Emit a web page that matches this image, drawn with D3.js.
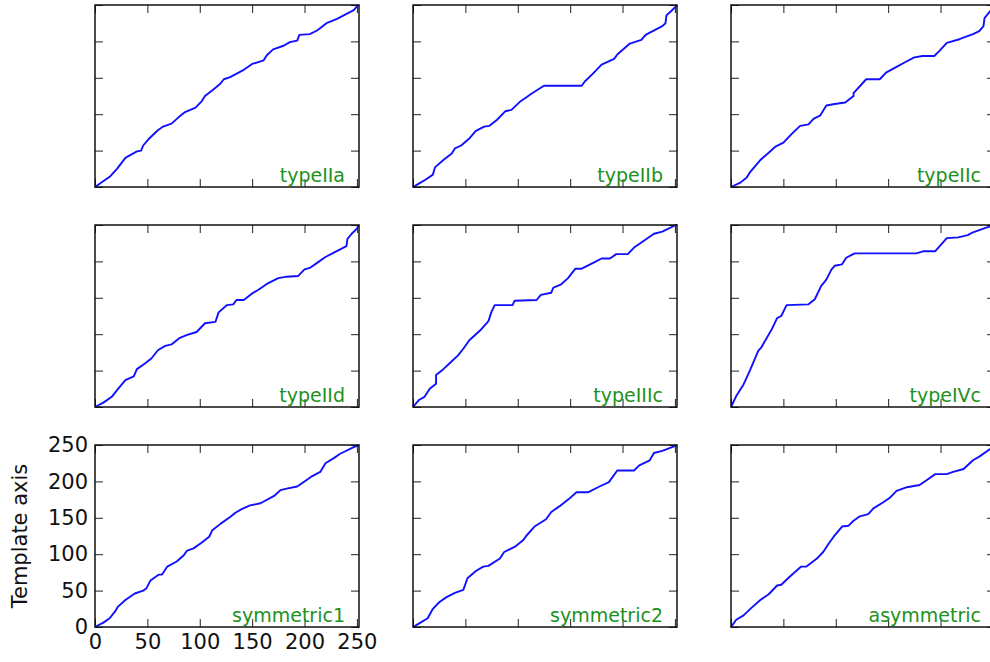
<!DOCTYPE html>
<html>
<head>
<meta charset="utf-8">
<script src="https://cdn.jsdelivr.net/npm/d3@7"></script>
<style>
  html, body { margin: 0; padding: 0; background: #fff; overflow: hidden; }
  svg { display: block; }
  text { font-family: "DejaVu Sans", sans-serif; }
</style>
</head>
<body>
<svg id="chart" width="990" height="662"></svg>
<script>
// Warping paths: [query index, template index] breakpoints for each step pattern
const pathTypeIIa = [[0,0],[14,14],[21,25],[29,40],[40,49],[44,50],[46,57],[52,67],[60,78],[65,83],[73,87],[80,96],[86,103],[96,109],[102,118],[105,125],[113,134],[119,141],[123,148],[129,151],[142,161],[150,169],[161,174],[164,181],[170,189],[180,194],[186,199],[193,201],[195,209],[205,210],[212,215],[221,225],[231,231],[247,243],[250,248],[252,250]];
const pathTypeIIb = [[0,0],[6,5],[13,11],[19,17],[21,27],[29,37],[37,46],[40,53],[46,57],[54,67],[60,77],[68,83],[73,84],[80,92],[88,104],[94,106],[102,117],[108,123],[113,128],[125,139],[161,139],[164,145],[172,156],[180,168],[192,176],[195,182],[207,197],[218,202],[222,209],[238,221],[241,225],[242,236],[246,241],[251,248],[252,250]];
const pathTypeIIc = [[0,0],[9,6],[15,13],[18,20],[28,37],[36,47],[42,55],[50,61],[58,73],[66,84],[74,86],[79,94],[85,98],[91,112],[99,114],[109,116],[117,125],[117,129],[129,148],[142,148],[148,157],[158,165],[167,172],[175,178],[183,180],[194,180],[199,187],[206,198],[218,203],[231,210],[237,214],[241,221],[242,232],[247,241],[250,244],[252,250]];
const pathTypeIId = [[0,0],[8,6],[16,14],[22,25],[29,37],[37,42],[40,52],[48,60],[54,67],[60,78],[67,84],[73,86],[81,95],[88,99],[97,103],[105,115],[115,117],[118,130],[126,140],[132,141],[135,147],[142,147],[150,156],[156,161],[164,169],[175,177],[183,179],[194,180],[200,189],[205,191],[213,199],[220,206],[228,212],[240,221],[241,231],[245,238],[250,245],[252,250]];
const pathTypeIIIc = [[0,0],[6,10],[11,14],[16,25],[22,32],[22,44],[29,52],[35,60],[43,71],[48,80],[54,92],[64,105],[72,118],[75,131],[78,140],[95,140],[97,146],[118,147],[122,154],[132,157],[134,164],[141,168],[148,177],[155,190],[161,190],[172,198],[180,204],[188,204],[194,210],[205,210],[211,219],[218,226],[230,238],[238,241],[251,250],[252,250]];
const pathTypeIVc = [[0,0],[5,15],[12,31],[18,50],[26,77],[29,82],[39,107],[44,122],[48,125],[53,140],[74,141],[80,148],[86,166],[91,175],[96,189],[99,194],[106,196],[110,205],[118,211],[177,211],[184,214],[195,214],[206,232],[217,233],[226,236],[231,240],[245,247],[252,250]];
const pathSymmetric1 = [[0,0],[8,6],[14,12],[19,21],[22,28],[29,37],[38,46],[46,50],[49,53],[53,64],[61,72],[64,72],[69,83],[78,90],[85,99],[88,105],[94,108],[101,115],[109,124],[112,133],[120,142],[129,151],[134,157],[140,162],[148,167],[158,170],[171,180],[177,188],[183,190],[193,193],[201,201],[207,207],[215,213],[220,225],[228,232],[234,238],[247,247],[252,250]];
const pathSymmetric2 = [[0,0],[6,5],[14,12],[19,25],[25,34],[32,41],[40,47],[48,51],[52,67],[60,77],[67,83],[72,84],[83,94],[87,103],[97,110],[105,119],[108,125],[116,138],[127,148],[132,158],[140,166],[149,176],[156,185],[167,185],[178,193],[187,199],[195,215],[211,215],[216,222],[226,229],[230,239],[238,242],[251,249],[252,250]];
const pathAsymmetric = [[0,0],[5,10],[12,16],[20,27],[28,37],[36,45],[44,57],[48,58],[56,69],[63,78],[67,83],[72,83],[82,94],[88,103],[93,114],[98,124],[106,138],[112,139],[117,146],[123,152],[131,155],[136,163],[145,171],[152,178],[158,187],[168,192],[180,195],[187,202],[195,210],[206,210],[212,213],[222,217],[231,229],[237,234],[247,244],[252,250]];

const stepNames = ["typeIIa", "typeIIb", "typeIIc", "typeIId", "typeIIIc", "typeIVc", "symmetric1", "symmetric2", "asymmetric"];
const stepPaths = [pathTypeIIa, pathTypeIIb, pathTypeIIc, pathTypeIId, pathTypeIIIc, pathTypeIVc, pathSymmetric1, pathSymmetric2, pathAsymmetric];
const tickValues = [0, 50, 100, 150, 200, 250];
const yAxisLabel = "Template axis";

const svg = d3.select("#chart");

// Grid layout of the small multiples
const nCols = 3;
const panelLeft = 95, panelTop = 5;
const panelW = 264, panelH = 182;
const colStep = 318, rowStep = 220;
const tickLen = 8;

stepPaths.forEach((path, i) => {
  const col = i % nCols, row = Math.floor(i / nCols);
  const x0 = panelLeft + col * colStep;
  const y0 = panelTop + row * rowStep;
  const labelled = (i === 6);

  const x = d3.scaleLinear().domain([0, 252]).range([0, panelW]);
  const y = d3.scaleLinear().domain([0, 250]).range([panelH, 0]);

  const g = svg.append("g").attr("transform", `translate(${x0},${y0})`);

  // Inward ticks on all four sides
  const axes = [
    { axis: d3.axisBottom(x), t: `translate(0,${panelH})`, show: labelled, pad: 7 },
    { axis: d3.axisTop(x), t: `translate(0,0)`, show: false, pad: 7 },
    { axis: d3.axisLeft(y), t: `translate(0,0)`, show: labelled, pad: 7 },
    { axis: d3.axisRight(y), t: `translate(${panelW},0)`, show: false, pad: 7 }
  ];
  axes.forEach(a => {
    a.axis.tickValues(tickValues).tickSizeInner(-tickLen).tickSizeOuter(0).tickPadding(a.pad);
    if (!a.show) a.axis.tickFormat("");
    const ag = g.append("g").attr("transform", a.t).call(a.axis);
    ag.select(".domain").remove();
    ag.selectAll(".tick line").attr("stroke", "#222").attr("stroke-width", 1);
    ag.selectAll(".tick text")
      .attr("font-size", 21)
      .attr("font-family", "DejaVu Sans, sans-serif")
      .attr("fill", "#111");
  });

  // Warping path
  const line = d3.line().x(d => x(d[0])).y(d => y(d[1]));
  g.append("path")
    .datum(path)
    .attr("d", line)
    .attr("fill", "none")
    .attr("stroke", "#1010ff")
    .attr("stroke-width", 1.9)
    .attr("stroke-linejoin", "round");

  // Frame
  g.append("rect")
    .attr("width", panelW).attr("height", panelH)
    .attr("fill", "none")
    .attr("stroke", "#111")
    .attr("stroke-width", 1.5);

  // Step pattern name
  g.append("text")
    .attr("x", panelW - 14)
    .attr("y", panelH - 5)
    .attr("text-anchor", "end")
    .attr("font-size", 19)
    .attr("fill", "#1d9120")
    .text(stepNames[i]);

  if (labelled) {
    g.append("text")
      .attr("transform", `translate(${-68},${panelH / 2}) rotate(-90)`)
      .attr("text-anchor", "middle")
      .attr("font-size", 21)
      .attr("fill", "#111")
      .text(yAxisLabel);
  }
});
</script>
</body>
</html>
